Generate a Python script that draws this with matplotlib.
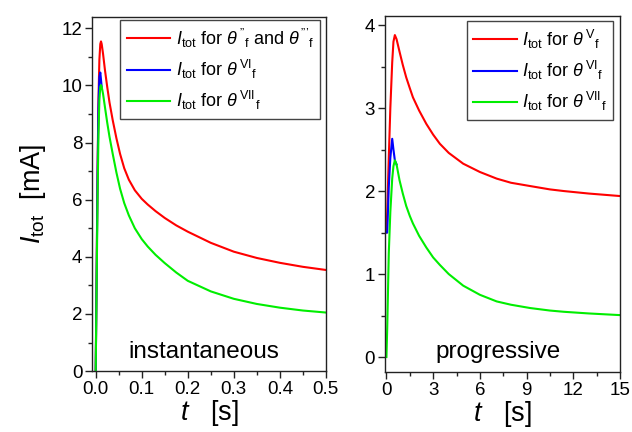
import numpy as np
import matplotlib
matplotlib.use("Agg")
import matplotlib.pyplot as plt
from matplotlib.ticker import MultipleLocator, FormatStrFormatter

plt.rcParams['font.family'] = ['Liberation Sans', 'DejaVu Sans']
plt.rcParams['mathtext.fontset'] = 'custom'
plt.rcParams['mathtext.rm'] = 'Liberation Sans'
plt.rcParams['mathtext.it'] = 'Liberation Sans:italic'
plt.rcParams['mathtext.bf'] = 'Liberation Sans:bold'

# instantaneous nucleation (left panel)
t_inst = [0, 0.002, 0.004, 0.006, 0.008, 0.010, 0.0115, 0.013, 0.016, 0.02,
          0.025, 0.03, 0.037, 0.045, 0.053, 0.062, 0.072, 0.085, 0.1, 0.113,
          0.13, 0.15, 0.175, 0.2, 0.25, 0.3, 0.35, 0.4, 0.45, 0.5]
i_inst_red = [0, 3.5, 7.0, 9.5, 10.9, 11.45, 11.54, 11.45, 11.1, 10.55,
              9.95, 9.4, 8.78, 8.15, 7.6, 7.1, 6.7, 6.33, 6.03, 5.83,
              5.6, 5.36, 5.1, 4.88, 4.49, 4.18, 3.96, 3.79, 3.65, 3.54]
t_inst_blue = [0, 0.002, 0.004, 0.006, 0.008, 0.010, 0.0115, 0.013]
i_inst_blue = [0, 3.3, 6.8, 9.2, 10.3, 10.45, 10.2, 9.95]
i_inst_green = [0, 3.0, 6.0, 8.3, 9.5, 9.95, 10.01, 9.95, 9.7, 9.25,
                8.7, 8.2, 7.6, 6.95, 6.38, 5.88, 5.45, 5.0, 4.62, 4.36,
                4.07, 3.78, 3.45, 3.16, 2.79, 2.53, 2.35, 2.22, 2.12, 2.05]

# progressive nucleation (right panel)
t_prog = [0, 0.05, 0.15, 0.25, 0.37, 0.45, 0.54, 0.65, 0.84, 1.05, 1.27,
          1.5, 1.7, 2.1, 2.56, 3.0, 3.43, 4.0, 4.93, 6.0, 7.08, 8.0, 9.24,
          10.5, 11.4, 13.0, 15.0]
i_prog_red = [1.5, 1.75, 2.4, 3.0, 3.55, 3.8, 3.88, 3.83, 3.68, 3.52, 3.37,
              3.24, 3.13, 2.97, 2.81, 2.68, 2.57, 2.46, 2.33, 2.23, 2.15, 2.1,
              2.06, 2.02, 2.0, 1.97, 1.94]
t_prog_blue = [0, 0.05, 0.15, 0.25, 0.37, 0.45, 0.54, 0.65]
i_prog_blue = [1.5, 1.5, 2.05, 2.4, 2.63, 2.5, 2.37, 2.32]
i_prog_green = [0, 0.35, 1.25, 1.75, 2.15, 2.3, 2.37, 2.32, 2.13, 1.97, 1.82,
                1.7, 1.61, 1.46, 1.32, 1.2, 1.11, 1.0, 0.86, 0.75, 0.67, 0.63,
                0.59, 0.56, 0.545, 0.525, 0.505]

DQ = "\u201d"
TQ = "\u201d\u2019"
labels_inst = [r"$I_{\mathrm{tot}}$ for $\theta^{\,\mathrm{" + DQ + r"}}{}_{\mathrm{f}}$ and $\theta^{\,\mathrm{" + TQ + r"}}{}_{\mathrm{f}}$",
               r"$I_{\mathrm{tot}}$ for $\theta^{\,\mathrm{VI}}{}_{\mathrm{f}}$",
               r"$I_{\mathrm{tot}}$ for $\theta^{\,\mathrm{VII}}{}_{\mathrm{f}}$"]
labels_prog = [r"$I_{\mathrm{tot}}$ for $\theta^{\,\mathrm{V}}{}_{\mathrm{f}}$",
               r"$I_{\mathrm{tot}}$ for $\theta^{\,\mathrm{VI}}{}_{\mathrm{f}}$",
               r"$I_{\mathrm{tot}}$ for $\theta^{\,\mathrm{VII}}{}_{\mathrm{f}}$"]

RED, BLUE, GREEN = '#ff0000', '#0000ff', '#00ee00'
spine_col = '#222222'

fig = plt.figure(figsize=(6.32, 4.32), dpi=100)
ax1 = fig.add_axes([0.1456, 0.141, 0.370, 0.820])
ax2 = fig.add_axes([0.609, 0.139, 0.372, 0.824])


def style_axes(ax):
    for s in ax.spines.values():
        s.set_color(spine_col)
        s.set_linewidth(1.0)
    ax.tick_params(which='both', direction='out', color=spine_col,
                   labelsize=13.5, top=False, right=False)
    ax.tick_params(which='major', length=5, width=1, pad=2)
    ax.tick_params(which='minor', length=3, width=1)


def add_legend(ax, anchor):
    leg = ax.legend(loc='upper right', bbox_to_anchor=anchor,
                    borderaxespad=0, fontsize=13, handlelength=2.4,
                    handletextpad=0.3, labelspacing=0.45, borderpad=0.35,
                    fancybox=False, framealpha=1)
    leg.get_frame().set_edgecolor('#444444')
    leg.get_frame().set_linewidth(1.0)
    return leg


# left panel
ax1.plot(t_inst, i_inst_red, color=RED, lw=1.5, label=labels_inst[0])
ax1.plot(t_inst_blue, i_inst_blue, color=BLUE, lw=1.5, label=labels_inst[1])
ax1.plot(t_inst, i_inst_green, color=GREEN, lw=1.5, label=labels_inst[2])
ax1.set_xlim(-0.008, 0.5)
ax1.set_ylim(0, 12.4)
ax1.xaxis.set_major_locator(MultipleLocator(0.1))
ax1.xaxis.set_minor_locator(MultipleLocator(0.05))
ax1.yaxis.set_major_locator(MultipleLocator(2))
ax1.yaxis.set_minor_locator(MultipleLocator(1))
ax1.xaxis.set_major_formatter(FormatStrFormatter('%.1f'))
style_axes(ax1)
ax1.set_xlabel(r"$t$   [s]", fontsize=19.5, labelpad=0)
ax1.set_ylabel(r"$I_{\mathrm{tot}}$  [mA]", fontsize=19.5, labelpad=10)
ax1.text(0.48, 0.055, "instantaneous", transform=ax1.transAxes,
         ha='center', va='center', fontsize=17.5)
add_legend(ax1, (0.975, 0.99))

# right panel
ax2.plot(t_prog, i_prog_red, color=RED, lw=1.5, label=labels_prog[0])
ax2.plot(t_prog_blue, i_prog_blue, color=BLUE, lw=1.5, label=labels_prog[1])
ax2.plot(t_prog, i_prog_green, color=GREEN, lw=1.5, label=labels_prog[2])
ax2.set_xlim(-0.1, 15)
ax2.set_ylim(-0.18, 4.11)
ax2.xaxis.set_major_locator(MultipleLocator(3))
ax2.xaxis.set_minor_locator(MultipleLocator(1.5))
ax2.yaxis.set_major_locator(MultipleLocator(1))
ax2.yaxis.set_minor_locator(MultipleLocator(0.5))
style_axes(ax2)
ax2.set_xlabel(r"$t$   [s]", fontsize=19.5, labelpad=0)
ax2.text(0.48, 0.055, "progressive", transform=ax2.transAxes,
         ha='center', va='center', fontsize=17.5)
add_legend(ax2, (0.97, 0.985))

fig.savefig("out.png", dpi=100)
